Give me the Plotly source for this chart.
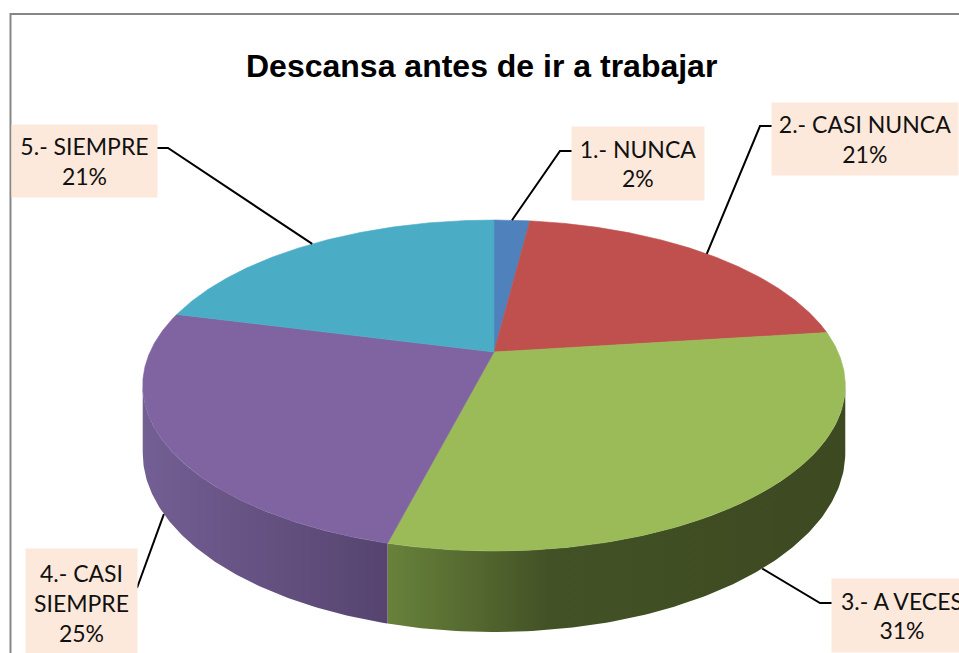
import numpy as np
import plotly.graph_objects as go

# ---------------- data ----------------
categories = ["1.- NUNCA", "2.- CASI NUNCA", "3.- A VECES", "4.- CASI SIEMPRE", "5.- SIEMPRE"]
values = [2, 21, 31, 25, 21]
label_text = ["1.- NUNCA", "2.- CASI NUNCA", "3.- A VECES", "4.- CASI<br>SIEMPRE", "5.- SIEMPRE"]
title_text = "Descansa antes de ir a trabajar"

# ---------------- styles / layout ----------------
top_colors = ["#4F81BD", "#C0504D", "#9BBB59", "#8064A2", "#4BACC6"]
side_scales = [
    [[0, "#3A5A85"], [1, "#2E4868"]],
    [[0, "#8A3836"], [1, "#6E2C2A"]],
    [[0, "#68823B"], [0.35, "#435226"], [1, "#3D4921"]],
    [[0, "#735F93"], [1, "#56446F"]],
    [[0, "#35798B"], [1, "#2A606E"]],
]
W, H = 959, 653
CX, CY = 494, 352          # pie apex (pixels)
A, B, K, D = 344, 158.7, 0.2025, 64.6   # radii, perspective, thickness
# label boxes: (center x, center y, width, height)
boxes = [
    (638, 163.5, 132, 73),
    (865, 139, 186, 72),
    (902, 615, 140, 73),
    (81.5, 603, 111, 108),
    (84.5, 161, 145, 72),
]
# elbow points of leader lines and box-edge end points
elbows = [
    [(560, 151), (572, 151)],
    [(760, 126), (772, 126)],
    [(820, 603), (832, 603)],
    [(137, 588)],
    [(168, 148), (157, 148)],
]
LABEL_FONT = dict(family="Lato, Carlito, Calibri, sans-serif", size=23, color="#111111")


def proj(theta_deg, drop=0.0):
    t = np.radians(theta_deg)
    u = np.sin(t)
    v = -np.cos(t)
    s = 1.0 / (1.0 - K * v)
    return CX + A * u * s, CY + B * v * s + drop * D * s


total = float(sum(values))
bounds = np.concatenate([[0], np.cumsum(values)]) / total * 360.0

fig = go.Figure()

# visible side range
th_r = np.degrees(np.arccos(-K))
th_l = 360 - th_r

# sides
for i in range(len(values)):
    a, b = max(bounds[i], th_r), min(bounds[i + 1], th_l)
    if b <= a:
        continue
    th = np.linspace(a, b, 120)
    xt, yt = proj(th)
    xb, yb = proj(th[::-1], 1.0)
    xs = np.concatenate([xt, xb, xt[:1]])
    ys = np.concatenate([yt, yb, yt[:1]])
    fig.add_trace(go.Scatter(
        x=xs, y=ys, mode="lines", fill="toself",
        fillgradient=dict(type="horizontal", colorscale=side_scales[i]),
        line=dict(width=0), hoverinfo="skip", showlegend=False))

# tops
for i in range(len(values)):
    th = np.linspace(bounds[i], bounds[i + 1], 200)
    xa, ya = proj(th)
    xs = np.concatenate([[CX], xa, [CX]])
    ys = np.concatenate([[CY], ya, [CY]])
    fig.add_trace(go.Scatter(
        x=xs, y=ys, mode="lines", fill="toself", fillcolor=top_colors[i],
        line=dict(width=0.6, color=top_colors[i]),
        name=categories[i], hoverinfo="name", showlegend=False))

# leader lines + labels
for i in range(len(values)):
    mid = (bounds[i] + bounds[i + 1]) / 2
    front = -np.cos(np.radians(mid)) > 0.3
    ax_, ay_ = proj(mid, 1.0 if front else 0.0)
    pts = [(ax_, ay_)] + elbows[i]
    fig.add_trace(go.Scatter(
        x=[p[0] for p in pts], y=[p[1] for p in pts], mode="lines",
        line=dict(color="black", width=2), hoverinfo="skip", showlegend=False))
    pct = f"{round(values[i] / total * 100)}%"
    bx, by, bw, bh = boxes[i]
    fig.add_annotation(
        x=bx, y=by, xref="x", yref="y", xanchor="center", yanchor="middle",
        text=f"{label_text[i]}<br>{pct}", showarrow=False,
        width=bw, height=bh, borderpad=0, bgcolor="#FDE9DB",
        align="center", valign="middle", font=LABEL_FONT)

# title
fig.add_annotation(
    x=481, y=66, xref="x", yref="y", xanchor="center", yanchor="middle",
    text=f"<b>{title_text}</b>", showarrow=False,
    font=dict(family="Liberation Sans, Arial, sans-serif", size=32, color="#000000"))

# chart border
fig.add_shape(type="rect", x0=10.5, y0=14, x1=1000, y1=700, xref="x", yref="y",
              line=dict(color="#868686", width=2), layer="below")

fig.update_layout(
    width=W, height=H, margin=dict(l=0, r=0, t=0, b=0),
    paper_bgcolor="white", plot_bgcolor="white",
    xaxis=dict(range=[0, W], visible=False, fixedrange=True),
    yaxis=dict(range=[H, 0], visible=False, fixedrange=True),
    showlegend=False,
)

fig.write_html("out.html", config={"displayModeBar": False},
               post_script="document.body.style.margin='0';document.body.style.overflow='hidden';")
